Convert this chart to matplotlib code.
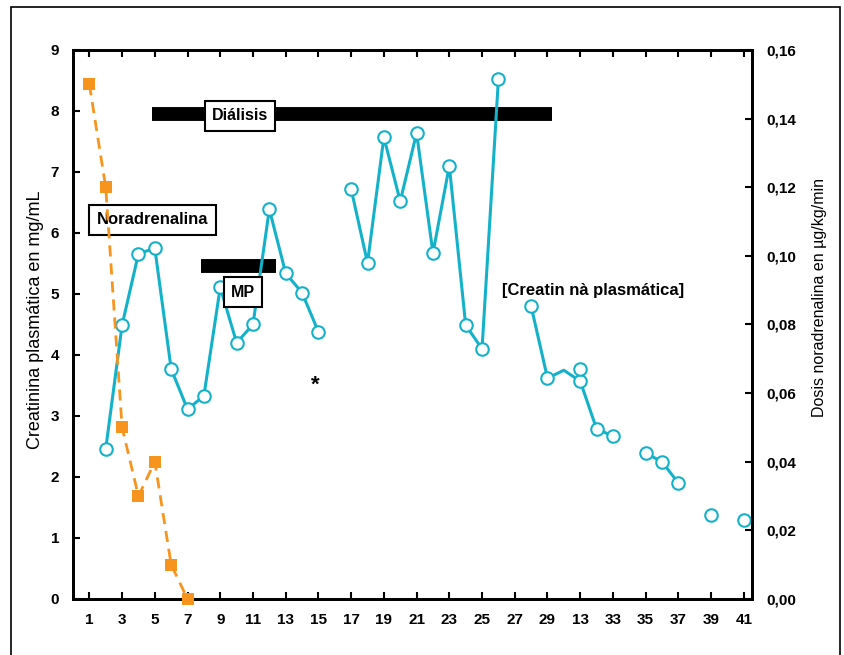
import matplotlib
matplotlib.use("Agg")
import matplotlib.pyplot as plt
from matplotlib.patches import Rectangle

plt.rcParams['font.family'] = ['Liberation Sans', 'DejaVu Sans']

# Creatinina plasmática (mg/mL), por tramos
dias_a = [2, 3, 4, 5, 6, 7, 8, 9, 10, 11, 12, 13, 14, 15]
creat_a = [2.46, 4.49, 5.66, 5.75, 3.77, 3.11, 3.33, 5.11, 4.20, 4.50, 6.39, 5.34, 5.02, 4.38]
dias_b = [17, 18, 19, 20, 21, 22, 23, 24, 25, 26]
creat_b = [6.72, 5.51, 7.57, 6.52, 7.64, 5.67, 7.10, 4.49, 4.10, 8.52]
dias_c = [28, 29, 30, 31, 32, 33]
creat_c = [4.80, 3.62, 3.75, 3.57, 2.79, 2.67]
marca_c = [True, True, False, True, True, True]
dias_d = [35, 36, 37]
creat_d = [2.39, 2.25, 1.90]
dias_sueltos = [31, 39, 41]
creat_sueltos = [3.77, 1.38, 1.30]

# Dosis de noradrenalina (µg/kg/min)
dias_nor = [1, 2, 3, 4, 5, 6, 7]
dosis_nor = [0.15, 0.12, 0.05, 0.03, 0.04, 0.01, 0.00]

# Barras de tratamiento (inicio, fin, altura)
dialisis = (4.85, 29.3, 7.95)
mp = (7.85, 12.4, 5.46)

xticks = list(range(1, 42, 2))
xlabels = [str(t) for t in xticks]
xlabels[15] = "13"  # tal cual aparece en la figura original

azul = '#14B2CA'
naranja = '#F7941D'

fig = plt.figure(figsize=(8.44, 6.55), dpi=100)
ax = fig.add_axes([0.0865, 0.0855, 0.8045, 0.8382])
ax2 = ax.twinx()

# marco exterior
fig.patches.append(Rectangle((11 / 844, -0.01), 829 / 844, 1 - 7 / 655 + 0.01,
                             transform=fig.transFigure, fill=False,
                             edgecolor='black', linewidth=1.2))

# barras
ax.hlines(dialisis[2], dialisis[0], dialisis[1], color='black', linewidth=10, zorder=2)
ax.hlines(mp[2], mp[0], mp[1], color='black', linewidth=10, zorder=2)

mk = dict(marker='o', markersize=9, markerfacecolor='white', markeredgecolor=azul,
          markeredgewidth=1.5, color=azul, zorder=3)
ax.plot(dias_a, creat_a, linewidth=2.2, **mk)
ax.plot(dias_b, creat_b, linewidth=2.2, **mk)
ax.plot(dias_c, creat_c, color=azul, linewidth=2.2, zorder=3)
ax.plot([d for d, m in zip(dias_c, marca_c) if m], [c for c, m in zip(creat_c, marca_c) if m],
        linestyle='none', **mk)
ax.plot(dias_d, creat_d, linewidth=2.2, **mk)
ax.plot(dias_sueltos, creat_sueltos, linestyle='none', **mk)

ax2.plot(dias_nor, dosis_nor, color=naranja, linestyle='--', linewidth=2,
         dashes=(4, 2.5), marker='s', markersize=8, markeredgewidth=0,
         clip_on=False, zorder=3)

# textos
caja = dict(boxstyle='square,pad=0.45', facecolor='white', edgecolor='black', linewidth=1.5)
ax.text(10.2, 7.92, "Diálisis", ha='center', va='center', fontsize=11.5,
        fontweight='bold', bbox=caja, zorder=4)
ax.text(10.4, 5.03, "MP", ha='center', va='center', fontsize=11.5,
        fontweight='bold', bbox=caja, zorder=4)
ax.text(4.85, 6.22, "Noradrenalina", ha='center', va='center', fontsize=12,
        fontweight='bold', bbox=caja, zorder=4)
ax.text(26.25, 5.05, "[Creatin nà plasmática]", ha='left', va='center',
        fontsize=12, fontweight='bold')
ax.text(14.8, 3.5, "*", ha='center', va='center', fontsize=16, fontweight='bold')

ax.set_xlim(0, 41.5)
ax.set_ylim(0, 9)
ax2.set_ylim(0, 0.16)
ax.set_xticks(xticks)
ax.set_xticklabels(xlabels)
ax.set_yticks(range(0, 10))
ax2.set_yticks([i * 0.02 for i in range(9)])
ax2.set_yticklabels([f"{i * 0.02:.2f}".replace('.', ',') for i in range(9)])

ax.set_ylabel("Creatinina plasmática en mg/mL", fontsize=13)
ax2.set_ylabel("Dosis noradrenalina en µg/kg/min", fontsize=11.5)
ax.yaxis.set_label_coords(-0.042, 0.508)
ax2.yaxis.set_label_coords(1.089, 0.55)

for a in (ax, ax2):
    for s in a.spines.values():
        s.set_linewidth(2)
ax.tick_params(axis='x', direction='in', top=True, length=5, width=1.5, pad=10)
ax.tick_params(axis='y', direction='in', length=5, width=1.5, pad=10)
ax2.tick_params(axis='y', direction='in', length=5, width=1.5, pad=10)
for lab in ax.get_xticklabels() + ax.get_yticklabels() + ax2.get_yticklabels():
    lab.set_fontweight('bold')
    lab.set_fontsize(11)

fig.savefig("out.png", dpi=100)
